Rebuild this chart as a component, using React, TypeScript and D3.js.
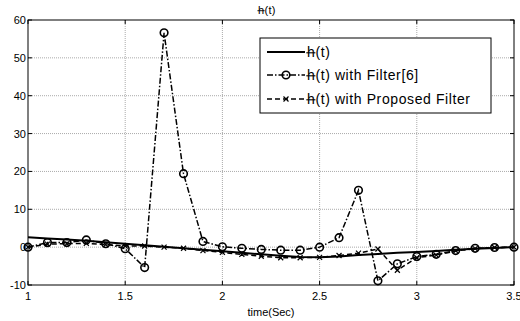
import React from "react";
import * as d3 from "d3";

const times = [1, 1.1, 1.2, 1.3, 1.4, 1.5, 1.6, 1.7, 1.8, 1.9, 2, 2.1, 2.2, 2.3, 2.4, 2.5, 2.6, 2.7, 2.8, 2.9, 3, 3.1, 3.2, 3.3, 3.4, 3.5];
const trueH = [2.6, 2.3, 2.0, 1.7, 1.3, 0.9, 0.5, 0.1, -0.3, -0.7, -1.1, -1.5, -1.9, -2.3, -2.6, -2.7, -2.5, -2.1, -1.8, -1.5, -1.3, -1.0, -0.7, -0.4, -0.2, 0];
const filter6 = [0, 1.2, 1.2, 1.9, 0.9, -0.4, -5.4, 56.6, 19.4, 1.5, 0.1, -0.3, -0.6, -0.8, -0.8, 0, 2.5, 15, -8.9, -4.4, -2.5, -1.9, -0.9, -0.3, -0.1, 0];
const proposed = [0, 0.8, 0.9, 1.0, 0.7, 0.3, 0.3, 0, -0.3, -0.9, -1.4, -1.9, -2.4, -2.8, -2.8, -2.7, -2.2, -1.6, -0.5, -6.1, -2.8, -2.1, -1.0, -0.4, -0.1, 0];
const xTicks = [1, 1.5, 2, 2.5, 3, 3.5];
const yTicks = [-10, 0, 10, 20, 30, 40, 50, 60];
const legendLabels = ["h(t)", "h(t) with Filter[6]", "h(t) with Proposed Filter"];
const titleText = "h(t)";
const xLabel = "time(Sec)";

const L = 28, R = 514, T = 20, B = 285;
const font = "Liberation Sans, Arial, sans-serif";

function StrokeH({ x, y, size }: { x: number; y: number; size: number }) {
  // strike through the "h" glyph at its lower middle
  const yy = y - size * 0.3;
  return <line x1={x - size * 0.05} x2={x + size * 0.6} y1={yy} y2={yy} stroke="#000" strokeWidth={size > 12 ? 1.1 : 0.9} />;
}

export default function App() {
  const x = d3.scaleLinear().domain([1, 3.5]).range([L, R]);
  const y = d3.scaleLinear().domain([-10, 60]).range([B, T]);
  const line = d3.line<number>().x((_, i) => x(times[i])).y((d) => y(d));
  const pts = (arr: number[]) => arr.map((v, i) => [x(times[i]), y(v)] as [number, number]);

  const lx = 260, ly = 38, lw = 231, lh = 75;
  const rows = [52, 75, 99];

  return (
    <svg width={520} height={321} style={{ position: "absolute", left: 0, top: 0, background: "#fff" }}>
      <rect x={0} y={0} width={520} height={321} fill="#fff" />
      {/* grid */}
      {xTicks.slice(1, -1).map((t) => (
        <line key={"gx" + t} x1={x(t)} x2={x(t)} y1={T} y2={B} stroke="#aaa" strokeWidth={1} strokeDasharray="1,1" />
      ))}
      {yTicks.slice(1, -1).map((t) => (
        <line key={"gy" + t} x1={L} x2={R} y1={y(t)} y2={y(t)} stroke="#aaa" strokeWidth={1} strokeDasharray="1,1" />
      ))}
      {/* ticks */}
      {xTicks.map((t) => (
        <g key={"tx" + t}>
          <line x1={x(t)} x2={x(t)} y1={B} y2={B - 4} stroke="#000" />
          <line x1={x(t)} x2={x(t)} y1={T} y2={T + 4} stroke="#000" />
          <text x={x(t)} y={B + 15} fontSize={11} fontFamily={font} textAnchor="middle">{t}</text>
        </g>
      ))}
      {yTicks.map((t) => (
        <g key={"ty" + t}>
          <line x1={L} x2={L + 4} y1={y(t)} y2={y(t)} stroke="#000" />
          <line x1={R} x2={R - 4} y1={y(t)} y2={y(t)} stroke="#000" />
          <text x={L - 2} y={y(t) + 4} fontSize={11} fontFamily={font} textAnchor="end">{t}</text>
        </g>
      ))}
      {/* series */}
      <path d={line(trueH) ?? ""} fill="none" stroke="#000" strokeWidth={2} />
      <path d={line(filter6) ?? ""} fill="none" stroke="#000" strokeWidth={1.5} strokeDasharray="6,2,1.5,2" />
      {pts(filter6).map(([px, py], i) => (
        <circle key={"c" + i} cx={px} cy={py} r={3.8} fill="none" stroke="#000" strokeWidth={1.6} />
      ))}
      <path d={line(proposed) ?? ""} fill="none" stroke="#000" strokeWidth={1.5} strokeDasharray="5,3" />
      {pts(proposed).map(([px, py], i) => (
        <path key={"x" + i} d={`M${px - 2.5},${py - 2.5}L${px + 2.5},${py + 2.5}M${px - 2.5},${py + 2.5}L${px + 2.5},${py - 2.5}`} stroke="#000" strokeWidth={1.2} />
      ))}
      {/* frame */}
      <rect x={L} y={T} width={R - L} height={B - T} fill="none" stroke="#000" strokeWidth={1} />
      {/* title */}
      <text x={258} y={14} fontSize={11} fontFamily={font} letterSpacing={0.3}>{titleText}</text>
      <StrokeH x={258} y={14} size={11} />
      {/* x label */}
      <text x={271} y={316} fontSize={11} fontFamily={font} textAnchor="middle">{xLabel}</text>
      {/* legend */}
      <rect x={lx} y={ly} width={lw} height={lh} fill="#fff" stroke="#000" strokeWidth={1} />
      <line x1={267} x2={305} y1={rows[0]} y2={rows[0]} stroke="#000" strokeWidth={2} />
      <line x1={267} x2={305} y1={rows[1]} y2={rows[1]} stroke="#000" strokeWidth={1.5} strokeDasharray="6,2,1.5,2" />
      <circle cx={286} cy={rows[1]} r={3.8} fill="none" stroke="#000" strokeWidth={1.6} />
      <line x1={267} x2={305} y1={rows[2]} y2={rows[2]} stroke="#000" strokeWidth={1.5} strokeDasharray="5,3" />
      <path d={`M${283.5},${rows[2] - 2.5}L${288.5},${rows[2] + 2.5}M${283.5},${rows[2] + 2.5}L${288.5},${rows[2] - 2.5}`} stroke="#000" strokeWidth={1.2} />
      {legendLabels.map((lab, i) => (
        <g key={"lg" + i}>
          <text x={307} y={rows[i] + 5} fontSize={14} fontFamily={font} letterSpacing={0.6}>{lab}</text>
          <StrokeH x={307} y={rows[i] + 5} size={14} />
        </g>
      ))}
    </svg>
  );
}
